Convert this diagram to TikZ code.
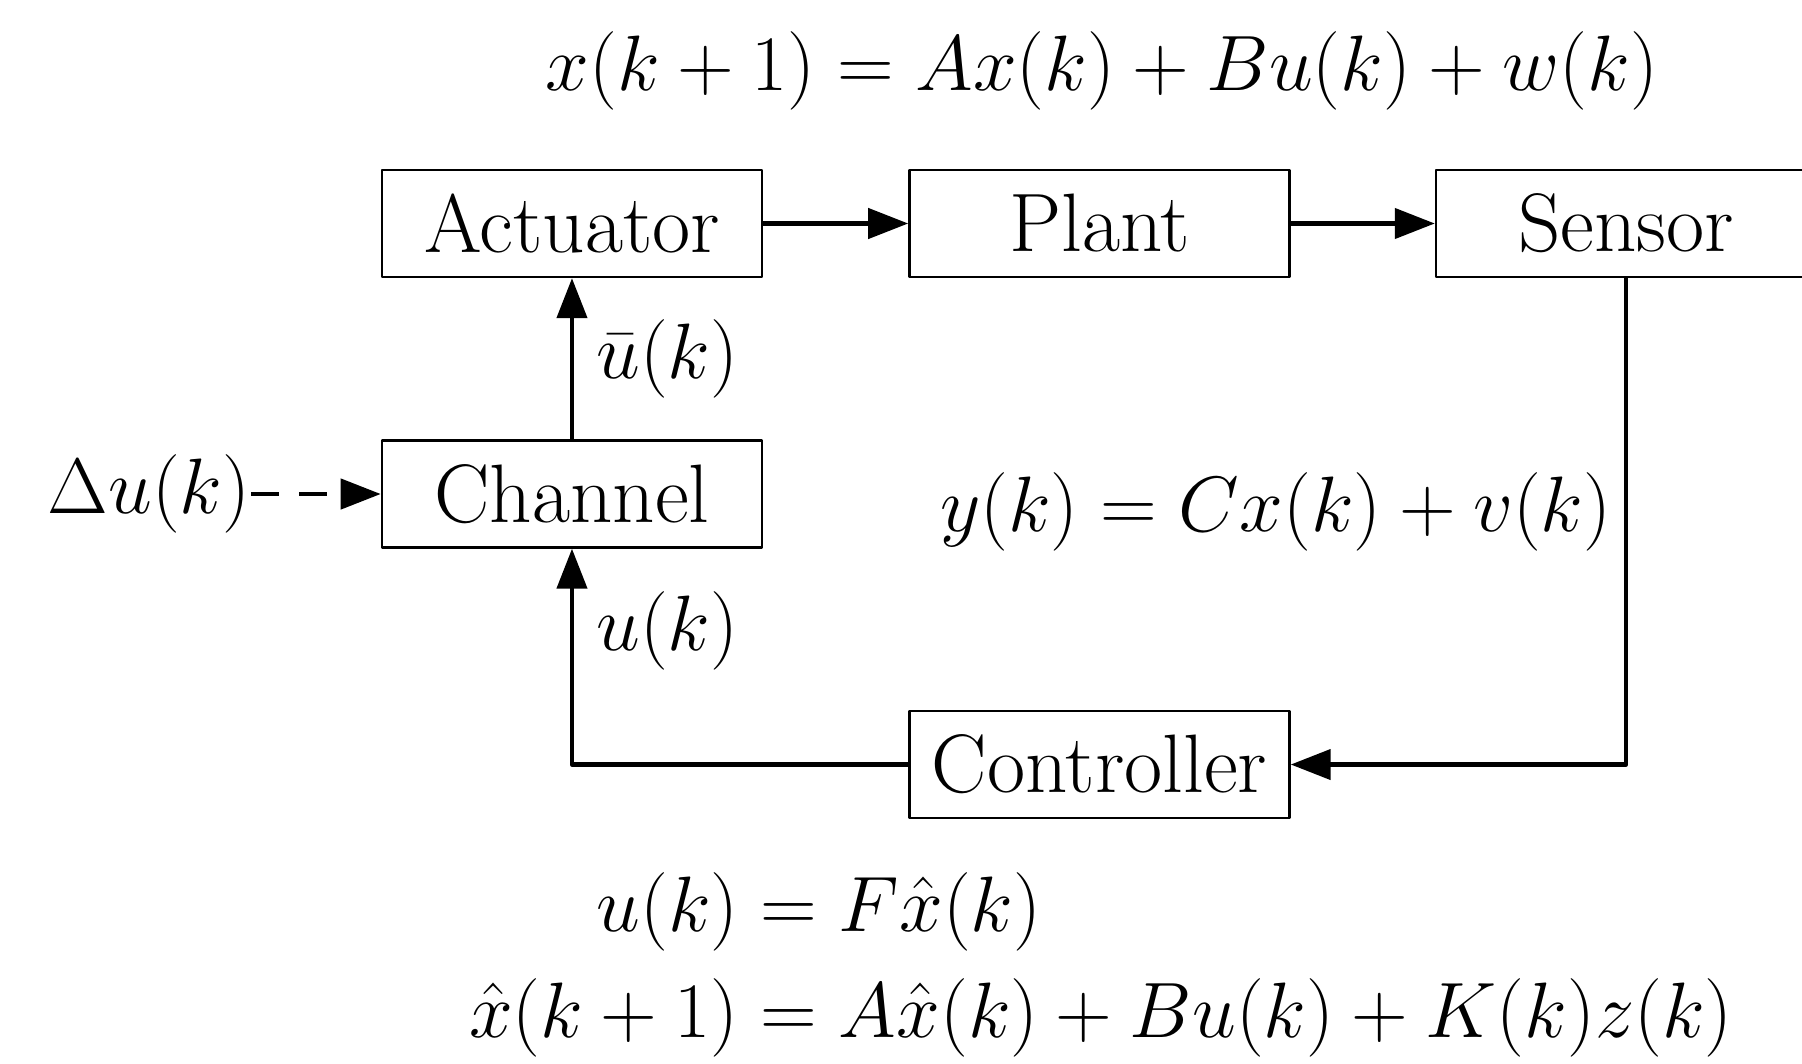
\documentclass[tikz,border=0pt]{standalone}
\usepackage{amsmath}
\usetikzlibrary{positioning,calc,arrows.meta}

\begin{document}
\begin{tikzpicture}[line join=round, >={Triangle[length=10pt,width=7.5pt]},
	every node/.style={font=\huge},
	block/.style={draw, line width=0.6pt, minimum width=3.34cm, minimum height=0.94cm},
	eq/.style={scale=0.947, transform shape},
	sig/.style={->, line width=1.1pt}]
		\useasboundingbox (-5.026,-7.377) rectangle (10.808,1.964);
		% blocks
		\node[block] (Actuator) at (0,0) {Actuator};
		\node[block] (Plant) at (4.635,0) {Plant};
		\node[block] (Sensor) at (9.262,0) {Sensor};
		\node[block] (Channel) at (0,-2.377) {Channel};
		\node[block] (Controller) at (4.635,-4.754) {Controller};
		% attack input
		\node[eq, inner sep=0pt] (Du) at (-3.717,-2.377) {$\Delta u(k)$};
		% equations
		\node[eq] (PlantEq) at (4.657,1.34) {$x(k+1)=Ax(k)+Bu(k)+w(k)$};
		\node[eq] (ControllerEq) at (4.648,-6.52) {$\begin{aligned} u(k)&=F\hat{x}(k)\\ \hat{x}(k+1)&=A\hat{x}(k)+Bu(k)+K(k)z(k)\end{aligned}$};
		% signals
		\draw[sig] (Actuator) -- (Plant);
		\draw[sig] (Plant) -- (Sensor);
		\draw[sig] (Channel) -- node[eq, right=2.4pt] {$\bar{u}(k)$} (Actuator);
		\draw[sig] (Sensor.south) |- node[eq, pos=0.24, left] {$y(k)=Cx(k)+v(k)$} (Controller.east);
		\draw[sig] (Controller.west) -| node[eq, pos=0.81, right=2.4pt] {$u(k)$} (Channel.south);
		\draw[sig, dash pattern=on 7pt off 5pt] (Du) -- (Channel);
	\end{tikzpicture}
\end{document}
